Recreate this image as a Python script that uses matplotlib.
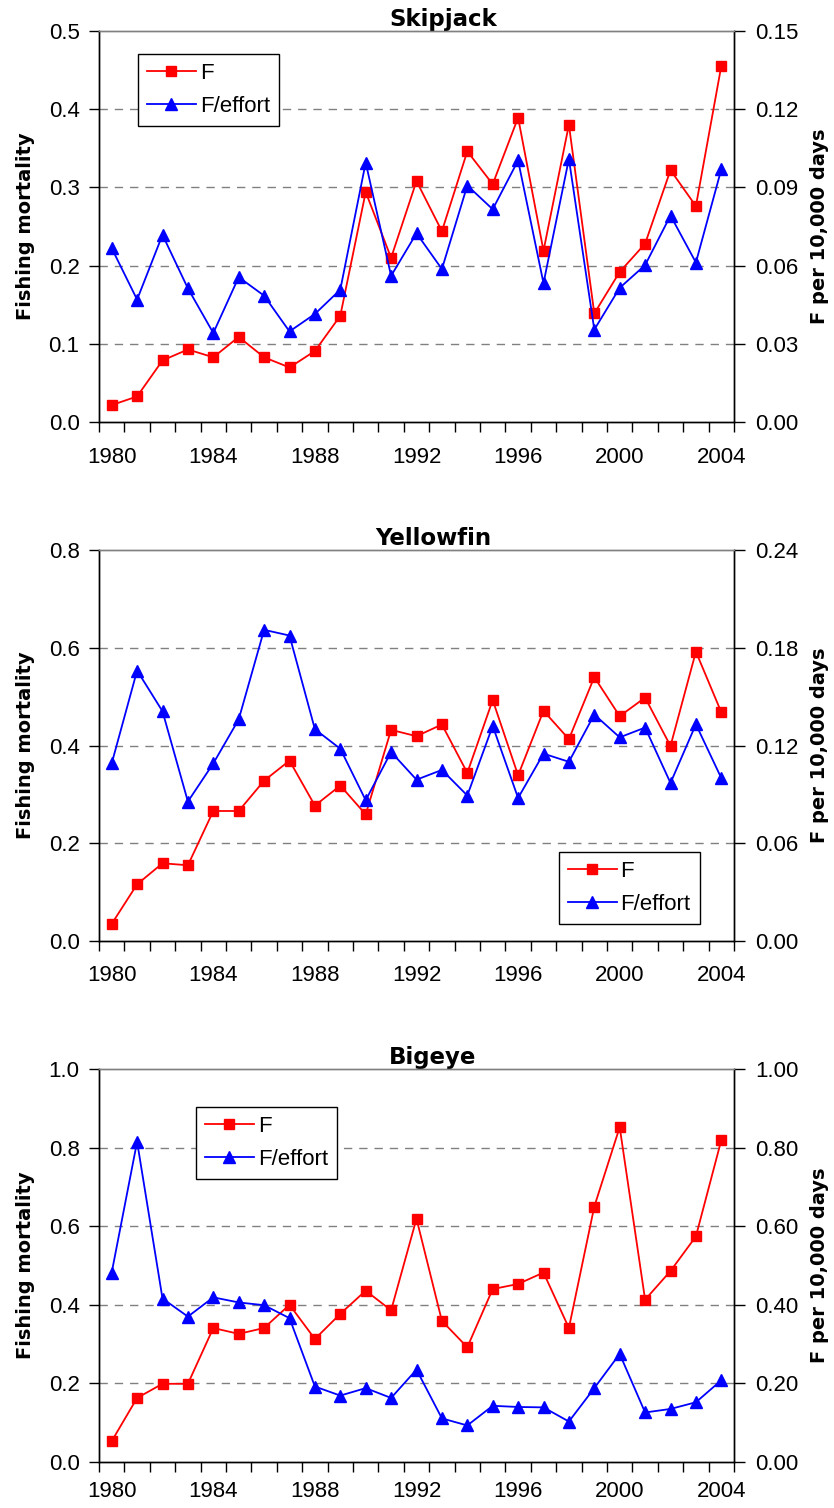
import numpy as np
from matplotlib import pyplot as plt
from matplotlib.ticker import FormatStrFormatter, MultipleLocator

plt.rcParams['font.family'] = ['Liberation Sans', 'DejaVu Sans']

years = np.arange(1980, 2005)

skj_F = [0.022, 0.033, 0.079, 0.093, 0.083, 0.109, 0.083, 0.070, 0.091, 0.136,
         0.294, 0.210, 0.308, 0.244, 0.346, 0.304, 0.389, 0.219, 0.380, 0.139,
         0.192, 0.228, 0.322, 0.276, 0.455]
skj_Feff = [0.0667, 0.0470, 0.0718, 0.0513, 0.0342, 0.0556, 0.0485, 0.0348, 0.0415, 0.0508,
            0.0995, 0.0561, 0.0724, 0.0587, 0.0907, 0.0816, 0.1003, 0.0533, 0.1009, 0.0355,
            0.0515, 0.0602, 0.0792, 0.0612, 0.0969]

yft_F = [0.035, 0.116, 0.159, 0.155, 0.266, 0.266, 0.328, 0.369, 0.277, 0.318,
         0.259, 0.432, 0.419, 0.443, 0.344, 0.493, 0.339, 0.471, 0.413, 0.540,
         0.460, 0.498, 0.399, 0.592, 0.468]
yft_Feff = [0.109, 0.166, 0.141, 0.0856, 0.109, 0.136, 0.191, 0.1875, 0.130, 0.118,
            0.0864, 0.116, 0.099, 0.105, 0.0893, 0.132, 0.0878, 0.115, 0.110, 0.139,
            0.125, 0.131, 0.097, 0.133, 0.100]

bet_F = [0.053, 0.163, 0.199, 0.199, 0.341, 0.326, 0.341, 0.400, 0.313, 0.377,
         0.436, 0.386, 0.619, 0.359, 0.292, 0.440, 0.453, 0.482, 0.341, 0.650,
         0.852, 0.413, 0.486, 0.574, 0.819]
bet_Feff = [0.482, 0.815, 0.416, 0.370, 0.419, 0.406, 0.399, 0.366, 0.192, 0.169,
            0.188, 0.163, 0.235, 0.111, 0.093, 0.143, 0.140, 0.139, 0.103, 0.188,
            0.275, 0.126, 0.135, 0.152, 0.208]

titles = ['Skipjack', 'Yellowfin', 'Bigeye']
left_lim = [0.5, 0.8, 1.0]
left_step = [0.1, 0.2, 0.2]
right_lim = [0.15, 0.24, 1.0]
right_step = [0.03, 0.06, 0.2]
xlabels = [1980, 1984, 1988, 1992, 1996, 2000, 2004]

fig = plt.figure(figsize=(8.34, 15.08), dpi=100)
W, H = 834., 1508.
boxes = [(30.7, 422.3), (550., 941.), (1069., 1462.)]
title_x = [0.542, 0.526, 0.526]
xpad = [17.5, 17.5, 14]
leg_pos = [(0.0614, 0.9405), (0.724, 0.2276), (0.153, 0.903)]

data = [(skj_F, skj_Feff), (yft_F, yft_Feff), (bet_F, bet_Feff)]

for i in range(3):
	top, bot = boxes[i]
	ax = fig.add_axes([99/W, 1-bot/H, (734-99)/W, (bot-top)/H])
	ax2 = ax.twinx()
	F, Feff = data[i]

	l1, = ax.plot(years, F, color='#ff0000', lw=1.3, marker='s', ms=6.5, label='F')
	l2, = ax2.plot(years, Feff, color='#0000ff', lw=1.3, marker='^', ms=8, label='F/effort')

	ax.set_xlim(1979.5, 2004.5)
	ax.set_ylim(0, left_lim[i])
	ax2.set_ylim(0, right_lim[i])
	ax.yaxis.set_major_locator(MultipleLocator(left_step[i]))
	ax2.yaxis.set_major_locator(MultipleLocator(right_step[i]))
	ax.yaxis.set_major_formatter(FormatStrFormatter('%.1f'))
	ax2.yaxis.set_major_formatter(FormatStrFormatter('%.2f'))

	ax.set_xticks(xlabels)
	ax.set_xticklabels([str(y) for y in xlabels])
	ax.set_xticks(np.arange(1979.5, 2005, 1), minor=True)
	ax.tick_params(axis='x', which='major', length=0, pad=xpad[i], labelsize=16)
	ax.tick_params(axis='x', which='minor', length=7, width=1, direction='out')
	ax.tick_params(axis='y', length=7, width=1, direction='out', pad=7, labelsize=16)
	ax2.tick_params(axis='y', length=8, width=1, direction='out', pad=7.5, labelsize=16)

	for g in np.arange(left_step[i], left_lim[i] - 1e-9, left_step[i]):
		ax.axhline(g, color='#808080', lw=1, ls=(0, (6, 5)), zorder=0)

	for a in (ax, ax2):
		a.spines['top'].set_color('#808080')
		for s in a.spines.values():
			s.set_linewidth(1)

	ax.set_title(titles[i], fontsize=16.5, fontweight='bold', family='DejaVu Sans',
				 x=title_x[i], pad=2.5)
	ax.set_ylabel('Fishing mortality', fontsize=14, fontweight='bold', family='DejaVu Sans')
	ax.yaxis.set_label_coords(-0.1008, 0.5)
	ax2.set_ylabel('F per 10,000 days', fontsize=14, fontweight='bold', family='DejaVu Sans')
	ax2.yaxis.set_label_coords(1.1197, 0.5)

	leg = ax2.legend([l1, l2], ['F', 'F/effort'], loc='upper left', bbox_to_anchor=leg_pos[i],
					 borderaxespad=0, fontsize=16, fancybox=False, framealpha=1,
					 edgecolor='black', handlelength=2.2, handletextpad=0.18,
					 borderpad=0.4, labelspacing=0.55)
	leg.get_frame().set_linewidth(1)

fig.savefig('out.png', dpi=100)
plt.close()
